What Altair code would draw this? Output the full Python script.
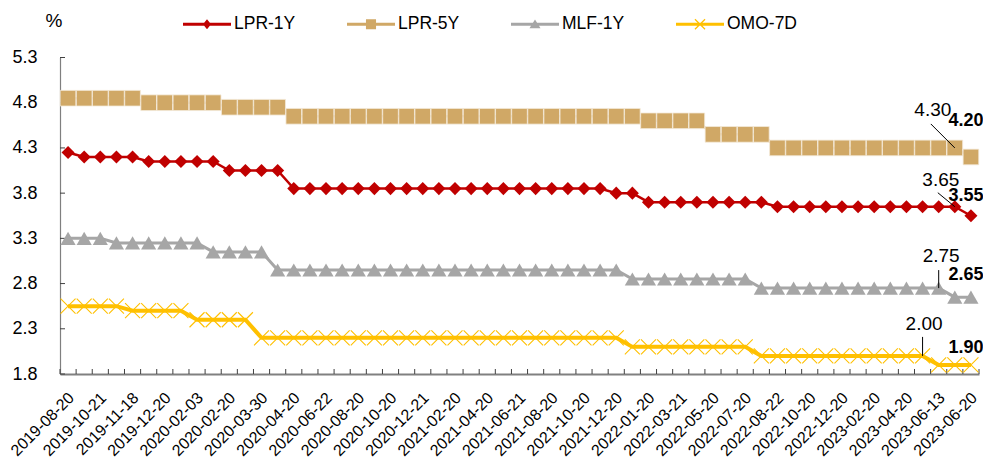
import altair as alt
import pandas as pd

# ---------------- data ----------------
dates = [
    "2019-08-20", "2019-09-20", "2019-10-21", "2019-11-05", "2019-11-18", "2019-11-20",
    "2019-12-20", "2020-01-20", "2020-02-03", "2020-02-17", "2020-02-20", "2020-03-20",
    "2020-03-30", "2020-04-15", "2020-04-20", "2020-05-20", "2020-06-22", "2020-07-20",
    "2020-08-20", "2020-09-21", "2020-10-20", "2020-11-20", "2020-12-21", "2021-01-20",
    "2021-02-20", "2021-03-22", "2021-04-20", "2021-05-20", "2021-06-21", "2021-07-20",
    "2021-08-20", "2021-09-22", "2021-10-20", "2021-11-22", "2021-12-20", "2022-01-17",
    "2022-01-20", "2022-02-21", "2022-03-21", "2022-04-20", "2022-05-20", "2022-06-20",
    "2022-07-20", "2022-08-15", "2022-08-22", "2022-09-20", "2022-10-20", "2022-11-21",
    "2022-12-20", "2023-01-20", "2023-02-20", "2023-03-20", "2023-04-20", "2023-05-22",
    "2023-06-13", "2023-06-15", "2023-06-20",
]
lpr_1y = [
    4.25, 4.20, 4.20, 4.20, 4.20, 4.15, 4.15, 4.15, 4.15, 4.15, 4.05, 4.05,
    4.05, 4.05, 3.85, 3.85, 3.85, 3.85, 3.85, 3.85, 3.85, 3.85, 3.85, 3.85,
    3.85, 3.85, 3.85, 3.85, 3.85, 3.85, 3.85, 3.85, 3.85, 3.85, 3.80, 3.80,
    3.70, 3.70, 3.70, 3.70, 3.70, 3.70, 3.70, 3.70, 3.65, 3.65, 3.65, 3.65,
    3.65, 3.65, 3.65, 3.65, 3.65, 3.65, 3.65, 3.65, 3.55,
]
lpr_5y = [
    4.85, 4.85, 4.85, 4.85, 4.85, 4.80, 4.80, 4.80, 4.80, 4.80, 4.75, 4.75,
    4.75, 4.75, 4.65, 4.65, 4.65, 4.65, 4.65, 4.65, 4.65, 4.65, 4.65, 4.65,
    4.65, 4.65, 4.65, 4.65, 4.65, 4.65, 4.65, 4.65, 4.65, 4.65, 4.65, 4.65,
    4.60, 4.60, 4.60, 4.60, 4.45, 4.45, 4.45, 4.45, 4.30, 4.30, 4.30, 4.30,
    4.30, 4.30, 4.30, 4.30, 4.30, 4.30, 4.30, 4.30, 4.20,
]
mlf_1y = [
    3.30, 3.30, 3.30, 3.25, 3.25, 3.25, 3.25, 3.25, 3.25, 3.15, 3.15, 3.15,
    3.15, 2.95, 2.95, 2.95, 2.95, 2.95, 2.95, 2.95, 2.95, 2.95, 2.95, 2.95,
    2.95, 2.95, 2.95, 2.95, 2.95, 2.95, 2.95, 2.95, 2.95, 2.95, 2.95, 2.85,
    2.85, 2.85, 2.85, 2.85, 2.85, 2.85, 2.85, 2.75, 2.75, 2.75, 2.75, 2.75,
    2.75, 2.75, 2.75, 2.75, 2.75, 2.75, 2.75, 2.65, 2.65,
]
omo_7d = [
    2.55, 2.55, 2.55, 2.55, 2.50, 2.50, 2.50, 2.50, 2.40, 2.40, 2.40, 2.40,
    2.20, 2.20, 2.20, 2.20, 2.20, 2.20, 2.20, 2.20, 2.20, 2.20, 2.20, 2.20,
    2.20, 2.20, 2.20, 2.20, 2.20, 2.20, 2.20, 2.20, 2.20, 2.20, 2.20, 2.10,
    2.10, 2.10, 2.10, 2.10, 2.10, 2.10, 2.10, 2.00, 2.00, 2.00, 2.00, 2.00,
    2.00, 2.00, 2.00, 2.00, 2.00, 2.00, 1.90, 1.90, 1.90,
]
series_names = ["LPR-1Y", "LPR-5Y", "MLF-1Y", "OMO-7D"]
y_tick_values = [1.8, 2.3, 2.8, 3.3, 3.8, 4.3, 4.8, 5.3]
# previous-rate annotations: series and point index
prev_ann_series = ["LPR-5Y", "LPR-1Y", "MLF-1Y", "OMO-7D"]
prev_ann_index = [55, 55, 54, 53]

# ---------------- styles ----------------
W, H = 919, 316.5
FONT = "Liberation Sans"
colors = {"LPR-1Y": "#C00000", "LPR-5Y": "#D0A866", "MLF-1Y": "#A6A6A6", "OMO-7D": "#FFC000"}
line_width = {"LPR-1Y": 2.5, "LPR-5Y": 2.5, "MLF-1Y": 3, "OMO-7D": 4}
marker = {
    "LPR-1Y": dict(shape="diamond", size=170, filled=True, strokeWidth=0),
    "LPR-5Y": dict(shape="square", size=245, filled=True, stroke="#F4EAD9", strokeWidth=0.8),
    "MLF-1Y": dict(shape="triangle-up", size=230, filled=True, strokeWidth=0),
    "OMO-7D": dict(shape="M-1,-1L1,1M-1,1L1,-1", size=225, filled=False, strokeWidth=1.1),
}
# annotation pixel offsets
prev_text_dx = [-22, -14, 2.5, 1.5]
prev_text_dy = [-38, -27, -32, -32]
leader_dx = [-24, -17, 0, 0]
leader_dy = [-24, -14, -18, -19]
final_text_dy = {"LPR-1Y": -20, "LPR-5Y": -36, "MLF-1Y": -22, "OMO-7D": -17}


def poly(pts):
    area = sum(pts[i][0] * pts[(i + 1) % len(pts)][1] - pts[(i + 1) % len(pts)][0] * pts[i][1]
               for i in range(len(pts)))
    if area < 0:
        pts = pts[::-1]
    return "M" + "L".join(f"{x:.4f},{y:.4f}" for x, y in pts) + "Z"


def bar(p, q, t):
    dx, dy = q[0] - p[0], q[1] - p[1]
    ln = (dx * dx + dy * dy) ** 0.5
    nx, ny = -dy / ln * t, dx / ln * t
    return poly([(p[0] + nx, p[1] + ny), (q[0] + nx, q[1] + ny), (q[0] - nx, q[1] - ny), (p[0] - nx, p[1] - ny)])


line_part = poly([(-1, -0.0625), (1, -0.0625), (1, 0.0625), (-1, 0.0625)])
legend_paths = [
    line_part + poly([(0, -0.21), (0.17, 0), (0, 0.21), (-0.17, 0)]),
    line_part + poly([(-0.21, -0.21), (0.21, -0.21), (0.21, 0.21), (-0.21, 0.21)]),
    line_part + poly([(0, -0.2), (0.23, 0.17), (-0.23, 0.17)]),
    line_part + bar((-0.21, -0.21), (0.21, 0.21), 0.025) + bar((-0.21, 0.21), (0.21, -0.21), 0.025),
]

values = {"LPR-1Y": lpr_1y, "LPR-5Y": lpr_5y, "MLF-1Y": mlf_1y, "OMO-7D": omo_7d}
n = len(dates)
df = pd.DataFrame([dict(idx=i, date=dates[i], series=s, value=values[s][i])
                   for s in series_names for i in range(n)])

x_dom = [-0.5, n - 0.5]
y_dom = [y_tick_values[0], y_tick_values[-1]]
px_idx = W / (x_dom[1] - x_dom[0])
px_val = H / (y_dom[1] - y_dom[0])

label_expr = "[" + ",".join(f"'{d}'" for d in dates) + "][datum.value]"

x_enc = alt.X(
    "idx:Q",
    scale=alt.Scale(domain=x_dom, nice=False, zero=False),
    axis=alt.Axis(values=list(range(0, n, 2)), labelExpr=label_expr, labelAngle=-45,
                  labelAlign="right", labelBaseline="middle", labelFontSize=16, labelFont=FONT,
                  labelPadding=21, labelOffset=3, ticks=False, tickSize=0, domainColor="#808080",
                  domainWidth=2, grid=False, labelOverlap=False, labelFlush=False, title=None,
                  labelColor="#000"),
)
y_enc = alt.Y(
    "value:Q",
    scale=alt.Scale(domain=y_dom, nice=False, zero=False),
    axis=alt.Axis(values=y_tick_values, format=".1f", labelFontSize=18, labelFont=FONT,
                  labelPadding=23, ticks=False, tickSize=0, domainColor="#7F7F7F", domainWidth=1.2,
                  grid=False, title="%", titleAngle=0, titleX=-6.5, titleY=-37.5, titleAlign="center",
                  titleBaseline="middle", titleFontSize=19, titleFont=FONT, titleFontWeight="normal",
                  labelColor="#000", titleColor="#000", labelFlush=False, labelOverlap=False),
)

layers = []

# axis ticks (inside), at category boundaries and y tick values
xt = alt.Chart(pd.DataFrame({"idx": [i - 0.5 for i in range(n + 1)]})).mark_rule(
    color="#404040", strokeWidth=1).encode(x=x_enc, y=alt.value(H), y2=alt.value(H - 5))
yt = alt.Chart(pd.DataFrame({"value": y_tick_values})).mark_rule(
    color="#404040", strokeWidth=1).encode(y=y_enc, x=alt.value(0), x2=alt.value(5))
layers += [xt, yt]

for s in series_names:
    base = alt.Chart(df).transform_filter(alt.datum.series == s)
    layers.append(base.mark_line(color=colors[s], strokeWidth=line_width[s]).encode(x=x_enc, y=y_enc))
for s in series_names:
    base = alt.Chart(df).transform_filter(alt.datum.series == s)
    m = marker[s]
    kw = dict(shape=m["shape"], size=m["size"], opacity=1, strokeWidth=m["strokeWidth"])
    if m["filled"]:
        kw.update(filled=True, fill=colors[s], stroke=m.get("stroke", colors[s]))
    else:
        kw.update(filled=False, stroke=colors[s])
    layers.append(base.mark_point(**kw).encode(x=x_enc, y=y_enc))

# legend (drawn from the scale domain only)
leg = alt.Legend(title=None, orient="none", legendX=123, legendY=-57.5, direction="horizontal",
                 columns=4, symbolSize=2304, symbolStrokeWidth=0, symbolOpacity=1,
                 labelFontSize=17.5, labelFont=FONT, labelColor="#000", labelOffset=3,
                 columnPadding=51, padding=0, symbolOffset=0)
legend_layer = alt.Chart(df).transform_filter("false").mark_point(filled=True, opacity=1).encode(
    x=x_enc, y=y_enc,
    color=alt.Color("series:N", scale=alt.Scale(domain=series_names, range=[colors[s] for s in series_names]), legend=leg),
    shape=alt.Shape("series:N", scale=alt.Scale(domain=series_names, range=legend_paths), legend=leg),
)
layers.append(legend_layer)

# annotations: previous rates with leader lines
for k, s in enumerate(prev_ann_series):
    i = prev_ann_index[k]
    v = values[s][i]
    ad = pd.DataFrame([dict(idx=i, value=v, label=f"{v:.2f}",
                            idx2=i + leader_dx[k] / px_idx, value2=v - leader_dy[k] / px_val)])
    layers.append(alt.Chart(ad).mark_rule(color="#000", strokeWidth=1).encode(
        x=x_enc, y=y_enc, x2="idx2:Q", y2="value2:Q"))
    layers.append(alt.Chart(ad).mark_text(font=FONT, fontSize=19, color="#000", dx=prev_text_dx[k],
                                          dy=prev_text_dy[k], align="center", baseline="middle").encode(
        x=x_enc, y=y_enc, text="label:N"))

# annotations: latest rates (bold)
for s in series_names:
    v = values[s][-1]
    ad = pd.DataFrame([dict(idx=n - 1, value=v, label=f"{v:.2f}")])
    layers.append(alt.Chart(ad).mark_text(font=FONT, fontSize=18, fontWeight="bold", color="#000",
                                          dx=-5, dy=final_text_dy[s], align="center", baseline="middle").encode(
        x=x_enc, y=y_enc, text="label:N"))

chart = alt.layer(*layers).properties(
    width=W, height=H,
    padding={"left": 52, "top": 49.5, "right": 4, "bottom": 90},
    autosize=alt.AutoSizeParams(type="none"),
).configure_view(strokeWidth=0)

chart.save("out.html", embed_options={"renderer": "svg", "actions": False})
